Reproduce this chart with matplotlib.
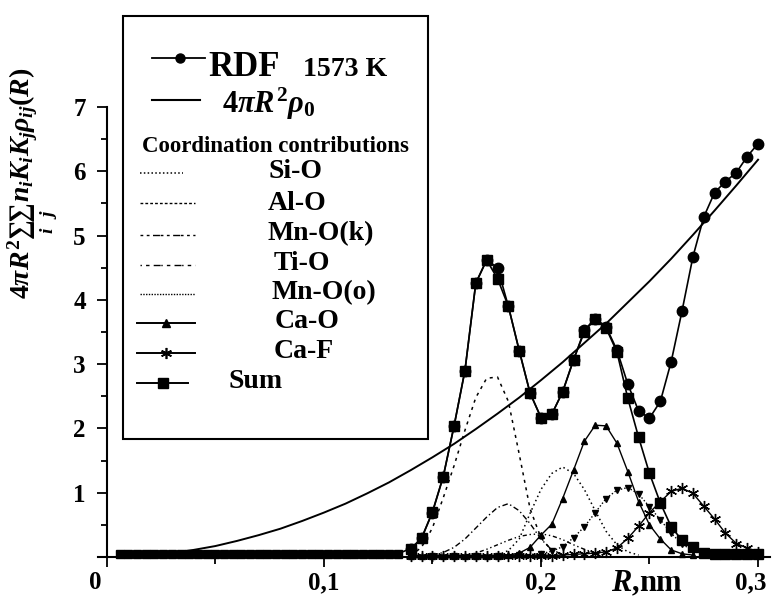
import matplotlib
matplotlib.use("Agg")
import matplotlib.pyplot as plt
from matplotlib.lines import Line2D
from matplotlib.patches import Rectangle
from matplotlib.transforms import ScaledTranslation
from matplotlib.ticker import MultipleLocator, FixedLocator, FixedFormatter

plt.rcParams['font.family'] = ['Liberation Serif', 'DejaVu Serif']
plt.rcParams['font.weight'] = 'bold'
plt.rcParams['mathtext.fontset'] = 'custom'
plt.rcParams['mathtext.rm'] = 'Liberation Serif:bold'
plt.rcParams['mathtext.it'] = 'Liberation Serif:italic:bold'
plt.rcParams['mathtext.bf'] = 'Liberation Serif:bold'

# ---- data (R in nm) ----
r_base = [0.006, 0.010, 0.014, 0.018, 0.022, 0.026, 0.030, 0.034, 0.038, 0.042,
          0.046, 0.050, 0.054, 0.058, 0.062, 0.066, 0.070, 0.074, 0.078, 0.082,
          0.086, 0.090, 0.094, 0.098, 0.102, 0.106, 0.110, 0.114, 0.118, 0.122,
          0.126, 0.130, 0.134]
v_base = [0.05, 0.05, 0.05, 0.05, 0.05, 0.05, 0.05, 0.05, 0.05, 0.05,
          0.05, 0.05, 0.05, 0.05, 0.05, 0.05, 0.05, 0.05, 0.05, 0.05,
          0.05, 0.05, 0.05, 0.05, 0.05, 0.05, 0.05, 0.05, 0.05, 0.05,
          0.05, 0.05, 0.05]

r_peak = [0.140, 0.145, 0.150, 0.155, 0.160, 0.165, 0.170, 0.175, 0.180, 0.185,
          0.190, 0.195, 0.200, 0.205, 0.210, 0.215, 0.220, 0.225, 0.230, 0.235,
          0.240, 0.245, 0.250, 0.255, 0.260, 0.265, 0.270, 0.275, 0.280, 0.285,
          0.290, 0.295, 0.300]

rdf_peak = [0.12, 0.29, 0.69, 1.25, 2.04, 2.90, 4.26, 4.62, 4.50, 3.90,
            3.21, 2.55, 2.17, 2.22, 2.57, 3.06, 3.53, 3.71, 3.58, 3.22,
            2.69, 2.27, 2.16, 2.42, 3.04, 3.83, 4.67, 5.29, 5.67, 5.84,
            5.98, 6.23, 6.43]

sum_peak = [0.13, 0.29, 0.70, 1.25, 2.04, 2.90, 4.26, 4.62, 4.33, 3.90,
            3.21, 2.55, 2.17, 2.22, 2.57, 3.07, 3.50, 3.71, 3.56, 3.19,
            2.47, 1.86, 1.30, 0.84, 0.47, 0.26, 0.16, 0.07, 0.05, 0.05,
            0.05, 0.05, 0.05]

# 4*pi*R^2*rho0
r_dens = [0.03, 0.04, 0.05, 0.06, 0.07, 0.08, 0.09, 0.10, 0.11, 0.12,
          0.13, 0.14, 0.15, 0.16, 0.17, 0.18, 0.19, 0.20, 0.21, 0.22,
          0.23, 0.24, 0.25, 0.26, 0.27, 0.28, 0.29, 0.30]
v_dens = [0.06, 0.11, 0.17, 0.25, 0.34, 0.44, 0.56, 0.69, 0.83, 0.99,
          1.16, 1.35, 1.55, 1.76, 1.99, 2.23, 2.48, 2.75, 3.03, 3.33,
          3.63, 3.96, 4.29, 4.64, 5.01, 5.39, 5.78, 6.18]

# coordination contributions
r_sio = [0.140, 0.145, 0.150, 0.155, 0.160, 0.165, 0.170, 0.175, 0.180, 0.185,
         0.190, 0.195, 0.200, 0.205, 0.210]
v_sio = [0.02, 0.15, 0.45, 0.92, 1.42, 1.97, 2.48, 2.78, 2.80, 2.42,
         1.60, 0.75, 0.30, 0.10, 0.03]

r_alo = [0.150, 0.155, 0.160, 0.165, 0.170, 0.175, 0.180, 0.185, 0.190, 0.195,
         0.200, 0.205, 0.210]
v_alo = [0.03, 0.07, 0.15, 0.28, 0.45, 0.62, 0.77, 0.83, 0.72, 0.52,
         0.28, 0.11, 0.04]

r_mnok = [0.180, 0.185, 0.190, 0.195, 0.200, 0.205, 0.210, 0.215, 0.220, 0.225,
          0.230, 0.235, 0.240, 0.245]
v_mnok = [0.03, 0.10, 0.28, 0.68, 1.05, 1.30, 1.40, 1.30, 1.05, 0.72,
          0.40, 0.19, 0.08, 0.03]

r_tio = [0.165, 0.170, 0.175, 0.180, 0.185, 0.190, 0.195, 0.200, 0.205, 0.210,
         0.215, 0.220, 0.225, 0.230]
v_tio = [0.03, 0.06, 0.12, 0.19, 0.26, 0.32, 0.35, 0.36, 0.33, 0.27,
         0.19, 0.12, 0.06, 0.03]

r_mnoo = [0.140, 0.150, 0.160, 0.170, 0.180, 0.190, 0.200, 0.205, 0.210, 0.215,
          0.220, 0.225, 0.230, 0.235, 0.240, 0.245, 0.250, 0.255, 0.260, 0.265,
          0.270, 0.275]
v_mnoo = [0.02, 0.02, 0.02, 0.02, 0.02, 0.03, 0.05, 0.09, 0.16, 0.30,
          0.47, 0.69, 0.91, 1.04, 1.08, 0.98, 0.78, 0.58, 0.37, 0.20,
          0.10, 0.05]

r_cao = [0.140, 0.145, 0.150, 0.155, 0.160, 0.165, 0.170, 0.175, 0.180, 0.185,
         0.190, 0.195, 0.200, 0.205, 0.210, 0.215, 0.220, 0.225, 0.230, 0.235,
         0.240, 0.245, 0.250, 0.255, 0.260, 0.265, 0.270]
v_cao = [0.02, 0.02, 0.02, 0.02, 0.02, 0.02, 0.02, 0.02, 0.02, 0.03,
         0.06, 0.15, 0.34, 0.51, 0.91, 1.35, 1.80, 2.05, 2.04, 1.77,
         1.33, 0.86, 0.50, 0.28, 0.11, 0.05, 0.03]

r_caf = [0.140, 0.145, 0.150, 0.155, 0.160, 0.165, 0.170, 0.175, 0.180, 0.185,
         0.190, 0.195, 0.200, 0.205, 0.210, 0.215, 0.220, 0.225, 0.230, 0.235,
         0.240, 0.245, 0.250, 0.255, 0.260, 0.265, 0.270, 0.275, 0.280, 0.285,
         0.290, 0.295, 0.300]
v_caf = [0.02, 0.02, 0.02, 0.02, 0.02, 0.02, 0.02, 0.02, 0.02, 0.02,
         0.02, 0.02, 0.02, 0.02, 0.03, 0.04, 0.05, 0.06, 0.08, 0.14,
         0.29, 0.48, 0.69, 0.86, 1.02, 1.07, 0.99, 0.79, 0.59, 0.37,
         0.21, 0.14, 0.08]

x_ticks = [0.0, 0.1, 0.2, 0.3]
x_ticklabels = ['0', '0,1', '0,2', '0,3']
y_ticks = [0, 1, 2, 3, 4, 5, 6, 7]
y_ticklabels = ['', '1', '2', '3', '4', '5', '6', '7']

# ---- figure ----
W, H = 772, 599
fig = plt.figure(figsize=(W / 100, H / 100), dpi=100)
ax = fig.add_axes([98 / W, 1 - 557 / H, (770 - 98) / W, (557 - 107) / H])
ax.set_xlim(-0.004, 0.3055)
ax.set_ylim(0, 7)

k = 'black'
ax.plot(r_sio, v_sio, color=k, lw=1.1, ls=(0, (2, 3)))
ax.plot(r_alo, v_alo, color=k, lw=1.0, ls=(0, (4, 2, 1, 2)))
ax.plot(r_mnok, v_mnok, color=k, lw=1.1, ls=(0, (1, 2)))
ax.plot(r_tio, v_tio, color=k, lw=1.0, ls=(0, (3, 2, 1, 2, 1, 2)))
ax.plot(r_mnoo, v_mnoo, color=k, lw=1.0, ls=(0, (1, 1.5)),
        marker='v', ms=4.5, mfc=k, mec=k, clip_on=False)
ax.plot(r_cao, v_cao, color=k, lw=1.0, marker='^', ms=5, mfc=k, mec=k,
        clip_on=False)
ax.plot(r_caf, v_caf, color=k, lw=1.0, marker=(6, 2, 0), ms=8, mec=k, mew=1.0,
        clip_on=False)
ax.plot(r_dens, v_dens, color=k, lw=1.4)

# experimental RDF (circles) and the summed model curve (squares)
ax.plot(r_peak, rdf_peak, color=k, lw=1.2, marker='o', ms=7.5,
        mfc=k, mec=k, clip_on=False)
ax.plot(r_base + r_peak, v_base + sum_peak, color=k, lw=1.2, clip_on=False)
ax.plot(r_base, v_base, ls='none', marker='s', ms=5.2, mfc=k, mec=k,
        clip_on=False)
ax.plot(r_peak, sum_peak, ls='none', marker='s', ms=7.5, mfc=k, mec=k,
        clip_on=False)

for s in ('top', 'right'):
    ax.spines[s].set_visible(False)
ax.spines['left'].set_position(('data', 0))
ax.spines['left'].set_linewidth(1.5)
ax.spines['bottom'].set_linewidth(1.5)

ax.xaxis.set_major_locator(FixedLocator(x_ticks))
ax.xaxis.set_major_formatter(FixedFormatter(x_ticklabels))
ax.xaxis.set_minor_locator(MultipleLocator(0.05))
ax.yaxis.set_major_locator(FixedLocator(y_ticks))
ax.yaxis.set_major_formatter(FixedFormatter(y_ticklabels))
ax.yaxis.set_minor_locator(MultipleLocator(0.5))
ax.tick_params(axis='x', which='major', direction='out', length=7, width=1.3,
               labelsize=18, pad=3)
ax.tick_params(axis='x', which='minor', direction='out', length=5, width=1.3)
ax.tick_params(axis='y', which='major', direction='out', length=7, width=1.3,
               labelsize=18, pad=8)
ax.tick_params(axis='y', which='minor', direction='out', length=4, width=1.3)

# nudge the end tick labels: origin label sits left of the axis corner,
# last label stays inside the canvas
xticks = ax.xaxis.get_major_ticks()
for tick, dx in ((xticks[0], -8), (xticks[-1], -5)):
    lab = tick.label1
    lab.set_transform(lab.get_transform()
                      + ScaledTranslation(dx / 72, 0, fig.dpi_scale_trans))

ax.text(0.249, -0.41, r'$R$,nm', fontsize=22, ha='center', va='center',
        clip_on=False)


def fxy(px, py):
    return px / W, 1 - py / H


# y-axis label
fig.text(*fxy(33, 183), r'$4\pi R^2\sum_{i}\sum_{j}\,n_i K_i K_j\rho_{ij}(R)$',
         rotation=90, fontsize=20, ha='center', va='center')

# legend box
x0, y0 = fxy(123, 439)
x1, y1 = fxy(428, 16)
fig.add_artist(Rectangle((x0, y0), x1 - x0, y1 - y0, transform=fig.transFigure,
                         fc='white', ec=k, lw=1.5, zorder=5))


def sample(xa, xb, py, **kw):
    (ax0, ay), (bx, _) = fxy(xa, py), fxy(xb, py)
    fig.add_artist(Line2D([ax0, bx], [ay, ay], transform=fig.transFigure,
                          color=k, zorder=6, **kw))


def mark(px, py, **kw):
    mx, my = fxy(px, py)
    fig.add_artist(Line2D([mx], [my], transform=fig.transFigure, color=k,
                          ls='none', zorder=7, **kw))


def label(px, py, s, size, va='center', **kw):
    fig.text(*fxy(px, py), s, fontsize=size, ha='left', va=va,
             zorder=7, **kw)


sample(152, 205, 58, lw=1.3)
mark(180, 58, marker='o', ms=6.5, mfc=k)
label(208, 76, 'RDF', 25, va='baseline')
label(303, 76, '1573 K', 20, va='baseline')

sample(152, 200, 100, lw=1.5)
label(222, 104, r'$4\pi R^2\rho_0$', 22)

fig.text(*fxy(275, 147), 'Coordination contributions', fontsize=16.5,
         ha='center', va='center', zorder=7)

sample(140, 183, 173, lw=1.1, ls=(0, (1, 1.5)))
label(268, 172, 'Si-O', 20)
sample(140, 195, 203, lw=1.0, ls=(0, (2, 1.5)))
label(268, 203, 'Al-O', 20)
sample(140, 195, 235, lw=1.0, ls=(0, (2, 2.5, 2, 2.5, 5, 0.5)))
label(268, 234, 'Mn-O(k)', 20)
sample(140, 195, 265, lw=1.0, ls=(0, (1, 3, 2.5, 3, 5, 0.5)))
label(274, 264, 'Ti-O', 20)
sample(140, 195, 294, lw=1.0, ls=(0, (1, 1)))
label(271, 293, 'Mn-O(o)', 20)

sample(137, 195, 323, lw=1.4)
mark(166, 323, marker='^', ms=5.5, mfc=k)
label(275, 322, 'Ca-O', 20)
sample(137, 195, 353, lw=1.4)
mark(166, 353, marker=(6, 2, 0), ms=8, mew=1.2)
label(274, 351, 'Ca-F', 20)
sample(137, 158, 383, lw=1.4)
sample(170, 188, 383, lw=1.4)
mark(163, 383, marker='s', ms=6.5, mfc=k)
label(229, 382, 'Sum', 20)

fig.savefig('out.png', dpi=100, facecolor='white')
